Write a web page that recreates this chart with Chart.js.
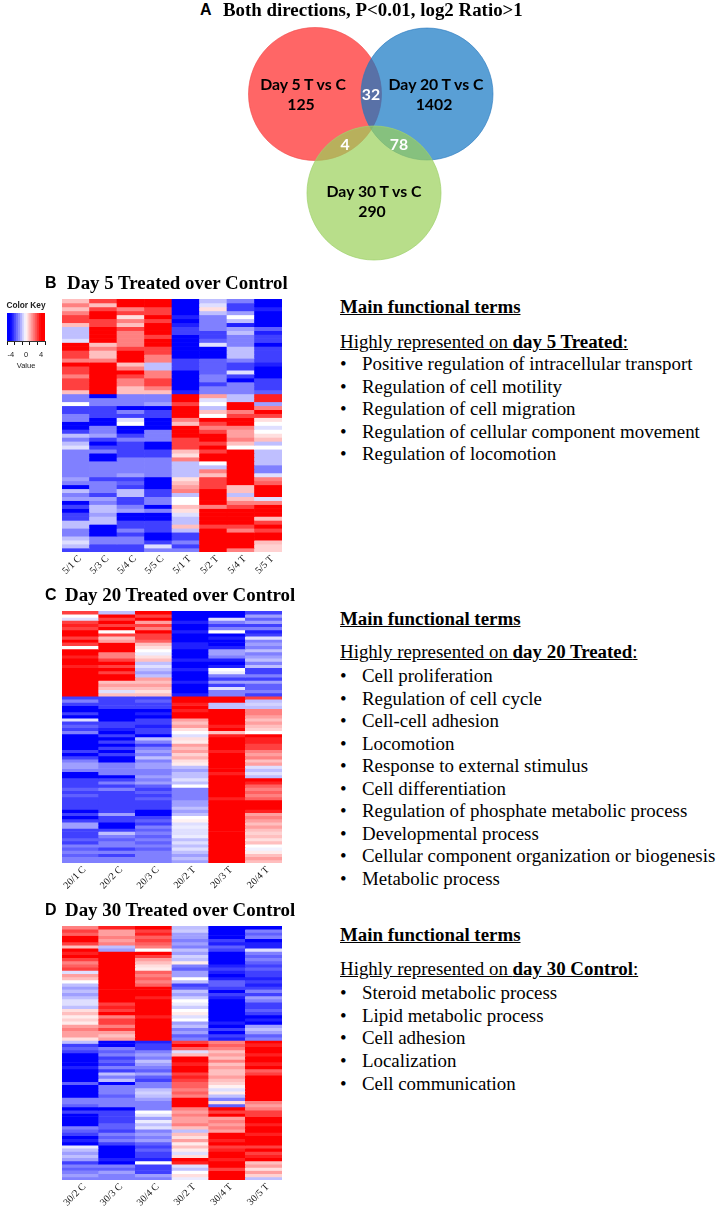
<!DOCTYPE html>
<html>
<head>
<meta charset="utf-8">
<title>Day 5, 20 and 30 Treated over Control</title>
<script src="https://cdn.jsdelivr.net/npm/chart.js@4"></script>
<style>
  html, body { margin: 0; padding: 0; background: #fff; }
  #page { position: relative; width: 718px; height: 1206px; overflow: hidden; }
  canvas { position: absolute; }
  .t { position: absolute; white-space: nowrap; transform: translateY(-50%); color: #000; font-family: "Liberation Serif", serif; }
  .title { font-weight: bold; font-size: 18.9px; }
  .letter { font-family: "Liberation Sans", sans-serif; font-weight: bold; font-size: 16px; }
  .venn { font-family: Lato, sans-serif; font-weight: bold; font-size: 15.8px; transform: translate(-50%, -50%); }
  .white { color: #fff; }
  .term { font-size: 18.9px; }
  .head { font-size: 18.9px; font-weight: bold; text-decoration: underline; }
  .key { font-family: "Liberation Sans", sans-serif; font-size: 7.5px; color: #222; transform: translate(-50%, -50%); }
  .keyhead { font-family: "Liberation Sans", sans-serif; font-size: 8.3px; font-weight: bold; color: #222; transform: translate(-50%, -50%); }
</style>
</head>
<body>
<div id="page">
  <canvas id="venn" width="260" height="245" style="left:240px;top:20px;width:260px;height:245px"></canvas>
  <canvas id="colorKey" width="60" height="52" style="left:0;top:313px;width:60px;height:52px"></canvas>
  <canvas id="heatB" width="300" height="284" style="left:0;top:299px;width:300px;height:284px"></canvas>
  <canvas id="heatC" width="300" height="283" style="left:0;top:611px;width:300px;height:283px"></canvas>
  <canvas id="heatD" width="300" height="285" style="left:0;top:926px;width:300px;height:285px"></canvas>
</div>
<script>
// venn circles, in the units of the venn chart
const vennX = [75, 187, 134];
const vennY = [171, 171, 72];
const vennR = [66.5, 66, 67];
const vennColors = ['rgba(255,0,0,0.6)', 'rgba(19,118,195,0.7)', 'rgba(154,208,88,0.7)'];

const keyValues = [-4.75, -4.25, -3.75, -3.25, -2.75, -2.25, -1.75, -1.25, -0.75, -0.25, 0.25, 0.75, 1.25, 1.75, 2.25, 2.75, 3.25, 3.75, 4.25, 4.75];
const keyTicks = [-4, -2, 0, 2, 4];
const keyLabels = [-4, 0, 4];

// Day 5, one list per sample, top row first
const day5Labels = ['5/1 C', '5/3 C', '5/4 C', '5/5 C', '5/1 T', '5/2 T', '5/4 T', '5/5 T'];
const d5_1C = [1,2,1,2,3,3,1,-1,-1,-1,-.5,4,4,3,3,2,4,3,3,2,3,3,3,1,
  -2,-2,0,-3,-3,-2,-2,-4,-4,-3,-1,-2,-1,-.5,-2,-2,-2,-2,-2,-2,-2,-1.5,-2,-4,-1,-2,-1.5,-4,-3,-4,-3,-3,-1,-1,-2,-2,-1,-.5,-1,-3];
const d5_3C = [3,1,3,4,4,3,3,4,4,4,4,1,2,1,1,2,4,4,4,4,4,4,4,4,
  -4,-2,-2,-3,-3,-3,-4,-4,-2,-2,-1.5,-3,-4,-3,-2,-4,-4,-2,-2,-2,-2,-3,-2,-2,-2,-3,-1.5,-2,-1,-1,-1.5,-1,-1,-4,-4,-4,-2,-2,-3,-3];
const d5_4C = [4,4,2,3,.5,2,1,3,2,2,2,2,3,4,4,4,1,2,4,3,2,2,1,1,
  -2,-2,-2,-4,-2,-3,-.5,0,-4,-4,-3,-2,-3,-3,-3,-3,-2,-2,-2,-2,-1.5,-3,-2.5,-3,-1,-1,-3,-3,-2,-1.5,-4,-4,-3,-3,-2,-3,-2,-2,-3,-3];
const d5_5C = [4,4,3,3,4,3,4,4,4,3,4,4,3,3,2,2,-1,-1,2,2,3,3,2,1,
  -2,-2,-1.5,-4,-3,-3,-4,-4,-4,-2,-2,-2,-4,-4,-3,-3,-2,-2,-2,-2,-2,-4,-4,-4,-3,-3,-2,-2,-4,-2,-4,-4,-3,-3,-3,-4,-4,-3,-.5,-2];
const d5_1T = [-4,-4,-4,-4,-3.5,-4,-3.5,-3,-3,-4,-4,-4,-4,-4,-4,-3,-3,-3,-4,-4,-4,-4,-4,-3.5,
  4,4,3,4,4,4,2,1,4,4,4,3,3,3,1,.5,2,-1,-1,-1,-1,.5,1,1.5,2,-1,0,0,1,.5,-.5,-1,-1,1,-1,-3,-3,-2,-3,-2];
const d5_2T = [-1,-.5,.5,-1,-2,-2,-2,-2,-3,-3,-2.5,-.5,-4,-4,-4,-2.5,-2.5,-2.5,-2.5,-2,-2,-3,-2,-2,
  1.5,-.5,0,-1,1,0,4,3,2,3,4,4,3,4,3,4,4,0,-1,2,1,3,3,3,4,4,4,4,2,4,4,4,4,3,4,4,4,4,4,4];
const d5_4T = [-2,-3,-3,-1.5,0,-1,-3.5,-1.5,-1,-2,-2,-2,-1,-1,-1,-2,-3,-3,-.5,-3,-4,-2,-2,-2,
  -1,-1,4,4,2,3,4,4,2,1.5,1.5,2,1,0,4,4,4,4,4,4,4,4,4,1,1,-1,1,2,3,4,4,4,4,3,2,4,4,4,4,2];
const d5_5T = [-4,-4,-3.5,-4,-4,-4,-4,-2.5,-3.5,-3,-3,-4,-3,-3,-3,-3,-3.5,-4,-4,-4,-3,-3,-3,-2.5,
  3.5,3.5,-1.5,2,4,3,.5,0,-.5,0,.5,1,-1,0,-1,-1,-1,-1,-2,-2,-.5,2,2.5,4,4,4,-.5,2,4,4,4,1,3,4,3,4,4,1,.7,.7];

// Day 20
const day20Labels = ['20/1 C', '20/2 C', '20/3 C', '20/2 T', '20/3 T', '20/4 T'];
const d20_1C = [3,0,-.5,3,3.5,3,4,4,3,4,3,0,4,4,3.5,4,4,3.5,4,4,4,4,4,4,4,4,4,
  -3,-2,-3,-4,-4,-3,-4,-.5,-3,-2.5,-3,-2,-4,-4,-4,-4,-4,-3,-4,-3,-2,-1.5,-1.5,-2,-4,-4,-3,-3,-3,-2.5,-3,-2.5,-3,-3,-3,-3,-4,-3,-4,-3,-1.5,-1.5,-3,-3,-3,-2.5,-3,-2,-2.5,-2,-2.5,-2,-2];
const d20_2C = [-1,4,3,4,3,4,0,3,1,1.5,4,4,4,2,2,3,4,3,4,3,4,4,1,1.5,1,-.5,1,
  -3,-3,-3,-3,-4,-4,-4,-4,-3,-3,-3.5,-4,-3,-4,-3,-4,-3,-4,-3,-4,-4,-2,-2,-2,-2,-4,-3,-2,-3,-2,-3,-3,-3,-3,-3,-3,-3,-1.5,-3,-3,-4,-4,-3,-1,-2,-2.5,-2,-2,-3,-2,-3,-2,-2];
const d20_3C = [4,3,4,1.5,3,2,4,3,3,2.5,1,.5,0,-.3,.5,1,-1,-.5,-1,-1.5,-1,1.5,1,1.5,1,.5,1,
  -3,-2.5,-3,-3,-4,-3.5,-4,-3,-3,-3.5,-3,-3,-4,-1,-2,-3,-2,-1.5,-2,-1,-2,-1.5,-1.5,-2,-2,-1.5,-2,-1.5,-2.5,-3,-2.5,-3,-2.5,-3,-3,-3,-4,-4,-3,-2.5,-3,-2,-2.5,-2,-2.5,-2,-2.5,-2,-2.5,-2,-2,-2,-2];
const d20_2T = [-4,-4,-4,-3.5,-4,-4,-3.5,-4,-4,-4,-3.5,-3.5,-4,-4,-4,-3.5,-4,-4,-3.5,-4,-4,-4,-3.5,-4,-4,-4,-3.5,
  4,4,3.5,4,3.5,4,4,1.5,1,1.5,.5,0,-.5,.5,.3,1.5,1,1.5,.7,1.2,.5,.3,-1,-1.5,-1,-1,-.5,-1,0,-2,-2,-2,-2,-1.5,-1.5,-1,-1.5,-1,0,.2,-.5,-.3,-.5,-.5,-.3,-1,-.5,-1,-.5,-1,-1.5,-1,-1.5];
const d20_3T = [-4,-4,-.5,-2,-3,-2,0,-4,-3.5,-4,-4,-3.5,-1.5,-1.5,-2,-3.5,-4,-3.5,0,-.3,-2,-3,-1.5,-3,-.5,-2,-2,
  4,4,-1,-1,4,4,4,4,4,3.5,4,1,3.5,4,4,4,4,3.5,4,4,4,4,4,4,3.5,4,4,4,4,4,4,4,3.5,4,4,4,4,4,4,4,4,4,4,4,4,4,4,4,4,4,4,4,4];
const d20_4T = [-3,-1.5,-2.5,-1.5,-3,-2,-3.5,-3,-.5,-2,-1.5,-2,-1,-2,-1.5,-1,-2,-1,-3,-3,-2,-3,-1.5,-2.5,-2.5,-2,-3,
  3,-1,-.7,-1,2,2,1.5,1,1.5,1,.7,0,4,3.5,3.5,3,3,2,1.5,2,1,1.5,-.5,-1,-.5,-1,4,3.5,2.5,2,2.5,2,2.5,4,4,4,3.5,1.5,2,1.5,1,1.5,1,.7,1,.5,1,0,-.2,.3,1,1.5,1];

// Day 30
const day30Labels = ['30/2 C', '30/3 C', '30/4 C', '30/2 T', '30/4 T', '30/5 T'];
const d30_2C = [2,3,2.5,4,4,3,1,4,3.5,4,3,2,2.5,3,-.5,1.5,1,0,-1,-1.5,-1,-1.5,-1,-.5,-.5,-1,.5,1,.3,.7,.3,1.5,2,1.5,1.5,.5,
  -1,-3,-2.5,-3,-4,-4,-4,-4,-3.5,-4,-4,-4,-4,-2.5,-4,-4,-4,-4,-2,-2,-2.5,-4,-3,-4,-4,-4,-4,-2,-2.5,-3,-4,-3.5,-4,-.3,-1,-1.5,-1,-1.5,-3,-2,-2.5,-2,-1.5,-2];
const d30_3C = [3.5,1.5,1.5,2,1.5,2,-1,-1.5,4,4,4,4,4,4,4,4,4,4,4,4,4,4,4,4,3,3.5,3,4,2,3,3,2,3,1.5,1,1.5,
  -4,-4,-2,-2.5,-2,-3,-2.5,-3,-2,-3,-1,-2,-1,-4,-2,-2,-2,-2.5,-2,-2,-2,-4,-3,-3,-3,-3,-2.5,-2.5,-3,-2,-2.5,-2,-3,-4,-4,-4,-4,-3.5,-4,-2,-2.5,-1.5,-2,-2];
const d30_4C = [4,3,3.5,2.5,3,2.5,2,0,4,3,1.5,1,.5,.3,2.5,2,2.5,2,2.5,4,4,4,3.5,4,4,4,4,4,3.5,4,4,4,4,4,4,4,
  -3.5,-3,-3,-2,-1.5,-2,-1,-1.5,-2,-2.5,-1.5,-2.5,-3,-2,-2,-1,-.7,-1,-1.5,-2,-2,-2,0,-.5,-1.5,-.3,-1,-.5,-2,-1.5,-2,-1.5,-2.5,-3,-2.5,-3,-3,-3.5,0,-3,-3,-3,-1.5,-2];
const d30_2T = [-1,-.8,-1.5,-1.5,-2,-1.5,-2,-1,-1.5,-.7,-1,.3,-2,-2.5,-1.5,-1.5,0,-1,-3,-2.5,-1,-1.5,-.8,0,-.3,-.8,0,.3,-.5,0,-1.5,-1,-2,-1.5,-2.5,-2,
  3,4,2.5,-.5,1,4,4,3.5,4,4,3,3.5,3,2.5,2.5,2,2.5,2,4,4,4,2,1.5,2,1.5,1.5,2,1,-1,1,.5,1.5,.3,1,.3,-.5,.5,4,3.5,-.5,-1,0,.5,-.3];
const d30_4T = [-4,-4,-4,-4,-3,-3.5,-2.5,-3,-4,-4,-4,-4,-3.5,-3,-3.5,-4,-3.5,-2.5,-2.5,-3,-4,-3,-3.5,-4,-4,-4,-4,-4,-4,-4,-3.5,-4,-3,-4,-3,-3.5,
  2,2.5,2,1,1.5,1,2,1,1.5,1,1,1.5,1,.7,.2,-.5,.3,-1,-2,.5,-2.5,4,3,4,1.5,2,1.5,2,1.5,4,4,3.5,4,3,3.5,4,4,3.5,4,4,3,4,4,4];
const d30_5T = [-4,-2,-2.5,-2,-4,-3.5,-3.5,-.5,-2,-2.5,-2,-2.5,-3,-2.5,-3,-3,-3.5,-3,-3.5,-3,-2,-3,-1.5,-2,-3,-3,-2.5,-3,-4,-3.5,-4,-1.5,-1,-1.5,-2.5,-2,
  4,3.5,4,4,3.5,4,4,3.5,4,2.5,3,4,4,4,4,4,4,4,4,2,1.5,2,3,3,4,4,3.5,4,4,3.5,4,4,4,3,4,3,3.5,4,1,1.5,.5,1.5,.7,-1];

const day5Columns = [d5_1C, d5_3C, d5_4C, d5_5C, d5_1T, d5_2T, d5_4T, d5_5T];
const day20Columns = [d20_1C, d20_2C, d20_3C, d20_2T, d20_3T, d20_4T];
const day30Columns = [d30_2C, d30_3C, d30_4C, d30_2T, d30_4T, d30_5T];

const day5Terms = ['Positive regulation of intracellular transport', 'Regulation of cell motility', 'Regulation of cell migration', 'Regulation of cellular component movement', 'Regulation of locomotion'];
const day20Terms = ['Cell proliferation', 'Regulation of cell cycle', 'Cell-cell adhesion', 'Locomotion', 'Response to external stimulus', 'Cell differentiation', 'Regulation of phosphate metabolic process', 'Developmental process', 'Cellular component organization or biogenesis', 'Metabolic process'];
const day30Terms = ['Steroid metabolic process', 'Lipid metabolic process', 'Cell adhesion', 'Localization', 'Cell communication'];

// blue - white - red, saturates at +-4
function heatColor(v) {
  const f = Math.min(Math.abs(v) / 4, 1);
  const c = Math.round(255 * (1 - f));
  return v < 0 ? `rgb(${c},${c},255)` : `rgb(255,${c},${c})`;
}

function text(cls, x, y, html) {
  const el = document.createElement('div');
  el.className = 't ' + cls;
  el.style.left = x + 'px';
  el.style.top = y + 'px';
  el.innerHTML = html;
  document.getElementById('page').appendChild(el);
}

function drawHeatmap(id, labels, columns) {
  const rows = columns[0].length;
  const datasets = [];
  for (let i = 0; i < rows; i++) {
    datasets.push({
      data: columns.map(() => 1),
      backgroundColor: columns.map(c => heatColor(c[i]))
    });
  }
  new Chart(document.getElementById(id), {
    type: 'bar',
    data: { labels: labels, datasets: datasets },
    options: {
      responsive: false,
      animation: false,
      layout: { padding: { left: 62, right: 18 } },
      plugins: { legend: { display: false }, tooltip: { enabled: false } },
      datasets: { bar: { barPercentage: 1, categoryPercentage: 1, borderWidth: 0 } },
      scales: {
        x: {
          stacked: true,
          afterFit: scale => { scale.height = 31; },
          grid: { display: false, drawTicks: false },
          border: { display: false },
          ticks: { minRotation: 45, maxRotation: 45, autoSkip: false, padding: 1, labelOffset: 4, color: '#111', font: { family: 'Liberation Serif', size: 10 } }
        },
        y: { stacked: true, display: false, reverse: true, min: 0, max: rows }
      }
    }
  });
}

function drawVenn() {
  new Chart(document.getElementById('venn'), {
    type: 'bubble',
    data: {
      datasets: [{
        data: vennX.map((x, i) => ({ x: x, y: vennY[i], r: vennR[i] })),
        backgroundColor: vennColors,
        borderColor: ['rgba(240,70,70,0.6)', 'rgba(40,120,190,0.6)', 'rgba(160,210,110,0.7)'],
        borderWidth: 1,
        clip: false
      }]
    },
    options: {
      responsive: false,
      animation: false,
      layout: { autoPadding: false },
      plugins: { legend: { display: false }, tooltip: { enabled: false } },
      scales: {
        x: { display: false, min: 0, max: 260 },
        y: { display: false, min: 0, max: 245 }
      }
    }
  });
}

function drawColorKey() {
  new Chart(document.getElementById('colorKey'), {
    type: 'bar',
    data: {
      datasets: [{
        data: keyValues.map(v => ({ x: v, y: 1 })),
        backgroundColor: keyValues.map(v => heatColor(v)),
        barPercentage: 1,
        categoryPercentage: 1
      }]
    },
    options: {
      responsive: false,
      animation: false,
      layout: { autoPadding: false, padding: { left: 7, right: 15 } },
      plugins: { legend: { display: false }, tooltip: { enabled: false } },
      scales: {
        x: {
          type: 'linear',
          offset: false,
          min: -5,
          max: 5,
          afterBuildTicks: scale => { scale.ticks = keyTicks.map(v => ({ value: v })); },
          afterFit: scale => { scale.height = 24; },
          grid: { drawOnChartArea: false, tickLength: 4, color: '#111' },
          border: { color: '#333' },
          ticks: {
            autoSkip: false,
            maxRotation: 0,
            padding: 5,
            color: '#222',
            font: { family: 'Liberation Sans', size: 7.5 },
            callback: v => keyLabels.includes(v) ? String(v) : ''
          }
        },
        y: { display: false, min: 0, max: 1 }
      }
    }
  });
}

function addTerms(terms, headY, highY, firstY, step, day) {
  text('head', 340, headY, 'Main functional terms');
  text('term', 340, highY, '<u>Highly represented on <b>' + day + '</b>:</u>');
  terms.forEach((t, i) => {
    text('term', 340, firstY + i * step, '•');
    text('term', 362, firstY + i * step, t);
  });
}

window.onload = function () {
  text('letter', 200, 10, 'A');
  text('title', 223, 10, 'Both directions, P&lt;0.01, log2 Ratio&gt;1');
  text('letter', 45, 283, 'B');
  text('title', 67, 283, 'Day 5 Treated over Control');
  text('letter', 45, 595, 'C');
  text('title', 65, 595, 'Day 20 Treated over Control');
  text('letter', 45, 910, 'D');
  text('title', 65, 910, 'Day 30 Treated over Control');

  drawVenn();
  drawColorKey();
  drawHeatmap('heatB', day5Labels, day5Columns);
  drawHeatmap('heatC', day20Labels, day20Columns);
  drawHeatmap('heatD', day30Labels, day30Columns);

  text('venn', 303, 83, 'Day 5 T vs C');
  text('venn', 301, 103, '125');
  text('venn', 436, 83, 'Day 20 T vs C');
  text('venn', 434, 103, '1402');
  text('venn', 374, 190, 'Day 30 T vs C');
  text('venn', 372, 210, '290');
  text('venn white', 371, 93, '32');
  text('venn white', 345, 143, '4');
  text('venn white', 399, 143, '78');

  text('keyhead', 26, 305, 'Color Key');
  text('key', 26, 365, 'Value');

  addTerms(day5Terms, 307, 342, 364, 22.5, 'day 5 Treated');
  addTerms(day20Terms, 619, 652, 676, 22.55, 'day 20 Treated');
  addTerms(day30Terms, 935, 969, 993, 22.7, 'day 30 Control');
};
</script>
</body>
</html>
